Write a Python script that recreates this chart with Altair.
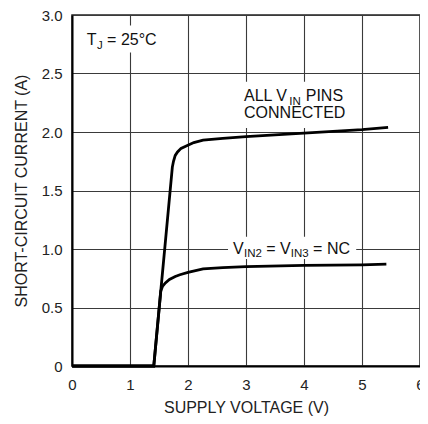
import altair as alt
import pandas as pd

# ---- data ----
supply_all = [0.0, 1.41, 1.73, 1.75, 1.78, 1.82, 1.88, 1.97, 2.10, 2.26, 2.60, 3.0, 4.0, 5.0, 5.45]
current_all = [0.0, 0.0, 1.70, 1.75, 1.80, 1.83, 1.86, 1.88, 1.91, 1.93, 1.945, 1.96, 1.99, 2.02, 2.04]

supply_nc = [0.0, 1.41, 1.53, 1.56, 1.61, 1.68, 1.78, 1.86, 2.0, 2.26, 2.6, 3.0, 4.0, 5.0, 5.42]
current_nc = [0.0, 0.0, 0.64, 0.68, 0.71, 0.74, 0.765, 0.78, 0.80, 0.83, 0.84, 0.85, 0.86, 0.865, 0.87]

x_ticks = [0, 1, 2, 3, 4, 5, 6]
y_ticks = [0, 0.5, 1.0, 1.5, 2.0, 2.5, 3.0]

FONT = "Liberation Sans, Arial, sans-serif"

curves = pd.concat([
    pd.DataFrame({"v": supply_all, "i": current_all, "s": "all"}),
    pd.DataFrame({"v": supply_nc, "i": current_nc, "s": "nc"}),
])

xs = alt.Scale(domain=[0, 6], nice=False)
ys = alt.Scale(domain=[0, 3], nice=False)

common_axis = dict(ticks=False, grid=True, gridColor="#3a3a3a", gridWidth=1.1,
                   domainColor="black", domainWidth=2,
                   labelFont=FONT, titleFont=FONT, labelFontSize=15, titleFontSize=16,
                   labelColor="#222", titleColor="#222", titleFontWeight="normal",
                   labelFlush=False)

lines = alt.Chart(curves).mark_line(color="black", strokeWidth=2.8, interpolate="linear").encode(
    x=alt.X("v:Q", scale=xs,
            axis=alt.Axis(title="SUPPLY VOLTAGE (V)", values=x_ticks, format="d",
                          labelPadding=11, titlePadding=7, **common_axis)),
    y=alt.Y("i:Q", scale=ys,
            axis=alt.Axis(title="SHORT-CIRCUIT CURRENT (A)", values=y_ticks,
                          labelExpr="datum.value == 0 ? '0' : format(datum.value, '.1f')",
                          labelPadding=10, titlePadding=12, **common_axis)),
    detail="s:N",
)

# white boxes behind annotations (data units)
boxes = pd.DataFrame({
    "x0": [0.10, 2.93, 2.69],
    "x1": [1.58, 4.80, 4.90],
    "y0": [2.68, 2.035, 0.915],
    "y1": [2.91, 2.43, 1.105],
})
box_layer = alt.Chart(boxes).mark_rect(color="white").encode(
    x=alt.X("x0:Q", scale=xs), x2="x1:Q",
    y=alt.Y("y0:Q", scale=ys), y2="y1:Q",
)

pieces = pd.DataFrame({
    "t": ["T", "J", "= 25°C",
          "ALL V", "IN", "PINS", "CONNECTED",
          "V", "IN2", "= V", "IN3", "= NC"],
    "x": [0.256, 0.43, 0.605,
          2.966, 3.745, 4.03, 2.966,
          2.778, 2.965, 3.35, 3.772, 4.157],
    "y": [2.744, 2.71, 2.744,
          2.266, 2.231, 2.266, 2.121,
          0.959, 0.933, 0.959, 0.933, 0.959],
    "size": [16, 11.5, 16,
             16, 11.5, 16, 16,
             16, 11.5, 16, 11.5, 16],
})
text_layer = alt.Chart(pieces).mark_text(
    align="left", baseline="alphabetic", font=FONT, color="#111"
).encode(
    x=alt.X("x:Q", scale=xs), y=alt.Y("y:Q", scale=ys),
    text="t:N",
    size=alt.Size("size:Q", scale=None, legend=None),
)

chart = alt.layer(box_layer, lines, text_layer).properties(
    width=348, height=351,
    padding={"left": 64, "top": 7, "right": 0, "bottom": 50},
    autosize=alt.AutoSizeParams(type="none"),
).configure_view(stroke="#222", strokeWidth=1.5)

chart.save("out.html", embed_options={"renderer": "svg", "actions": False})
